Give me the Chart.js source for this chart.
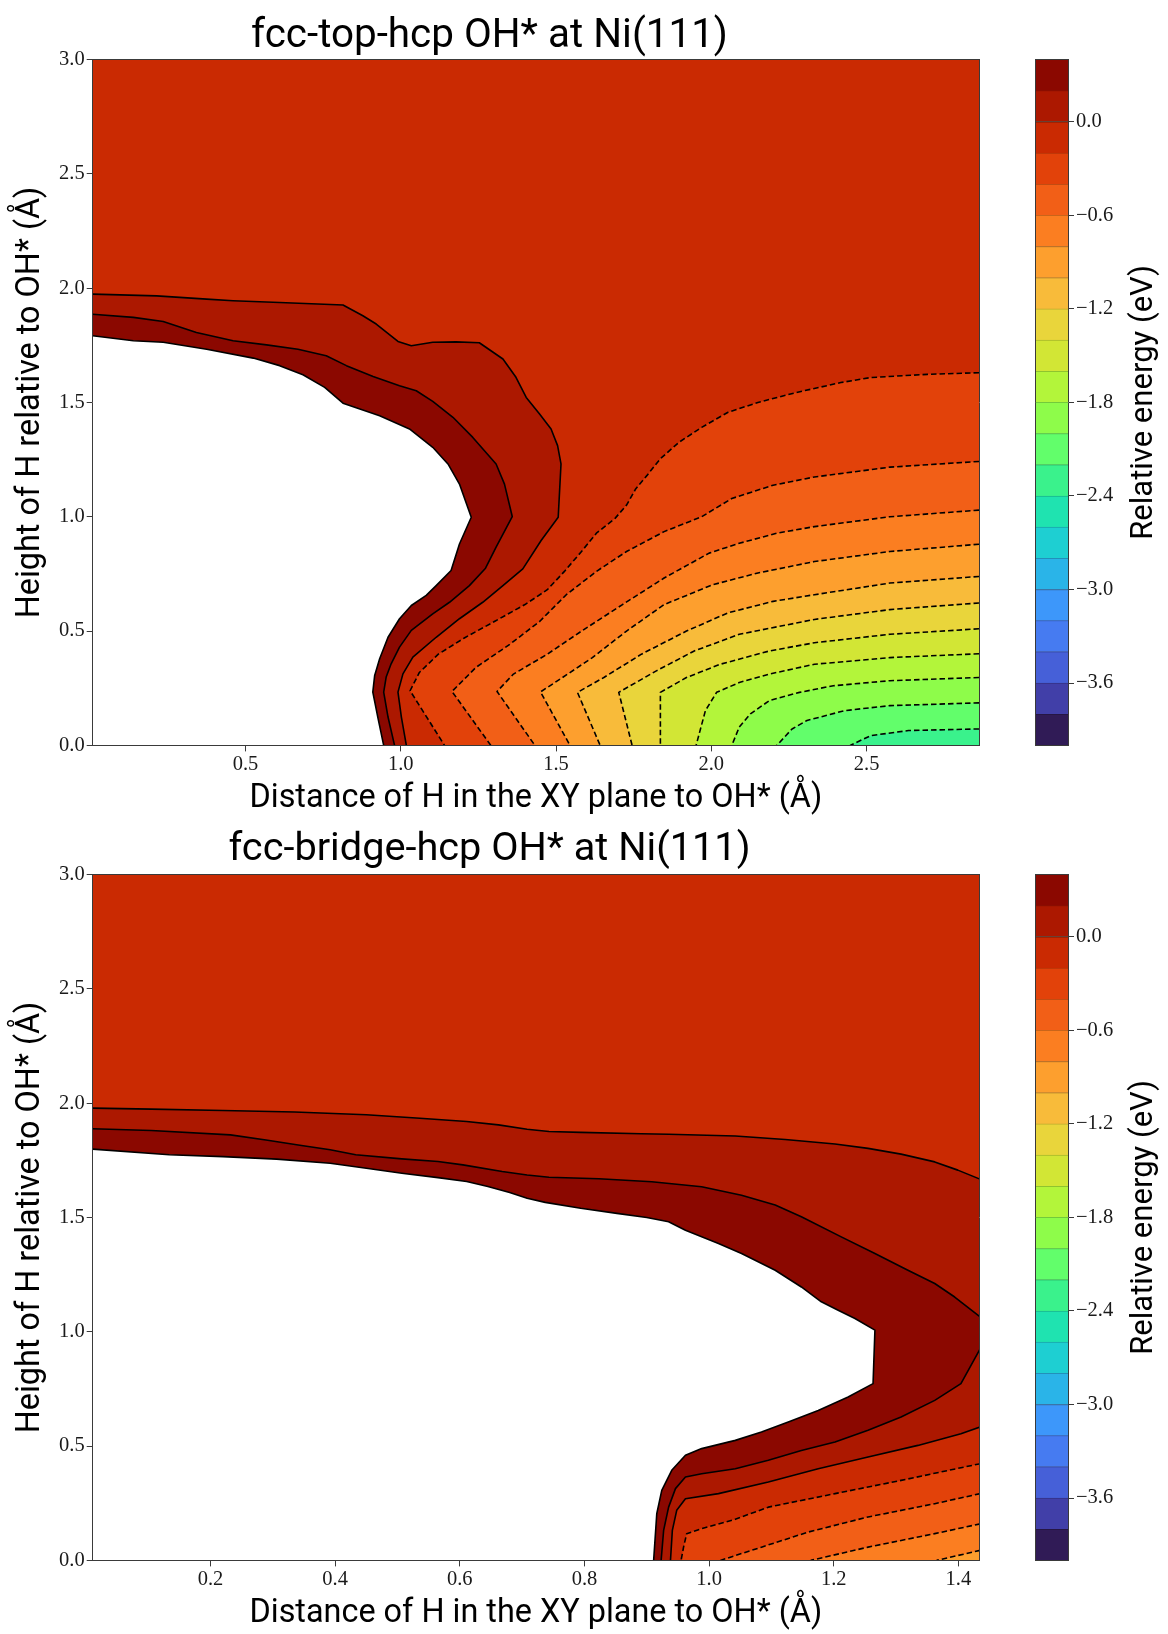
<!DOCTYPE html>
<html><head><meta charset="utf-8">
<script src="https://cdn.jsdelivr.net/npm/chart.js@4/dist/chart.umd.min.js"></script>
<style>
html,body{margin:0;padding:0;background:#fff;width:1168px;height:1634px;overflow:hidden;position:relative}
canvas{position:absolute}
</style></head><body>
<canvas id="topMain" width="1010" height="817" style="left:0;top:0;width:1010px;height:817px"></canvas>
<canvas id="topBar" width="158" height="817" style="left:1010px;top:0;width:158px;height:817px"></canvas>
<canvas id="botMain" width="1010" height="817" style="left:0;top:815px;width:1010px;height:817px"></canvas>
<canvas id="botBar" width="158" height="817" style="left:1010px;top:815px;width:158px;height:817px"></canvas>
<script>
// ---------------- data ----------------
const LEVELS = [-4.0,-3.8,-3.6,-3.4,-3.2,-3.0,-2.8,-2.6,-2.4,-2.2,-2.0,-1.8,-1.6,-1.4,-1.2,-1.0,-0.8,-0.6,-0.4,-0.2,0.0,0.2,0.4];
const CBAR_TICKS = [0.0,-0.6,-1.2,-1.8,-2.4,-3.0,-3.6];
const Y_TICKS = [0.0,0.5,1.0,1.5,2.0,2.5,3.0];
const Y_RANGE = [0,3];
const TOP_X_TICKS = [0.5,1.0,1.5,2.0,2.5];
const TOP_X_RANGE = [0.008,2.862];
const BOT_X_TICKS = [0.2,0.4,0.6,0.8,1.0,1.2,1.4];
const BOT_X_RANGE = [0.011,1.433];

const TOP_TITLE = 'fcc-top-hcp OH* at Ni(111)';
const BOT_TITLE = 'fcc-bridge-hcp OH* at Ni(111)';
const X_TITLE = 'Distance of H in the XY plane to OH* (Å)';
const Y_TITLE = 'Height of H relative to OH* (Å)';
const CBAR_TITLE = 'Relative energy (eV)';

// top panel contours (x, y) — positive levels run from left edge to bottom edge
const TOP_P040 = [[0.008,1.792],[0.139,1.770],[0.235,1.763],[0.375,1.733],[0.525,1.694],[0.610,1.661],[0.685,1.621],[0.755,1.566],[0.814,1.497],[0.932,1.442],[1.028,1.384],[1.103,1.304],[1.152,1.231],[1.189,1.143],[1.227,0.998],[1.189,0.881],[1.162,0.765],[1.114,0.699],[1.082,0.656],[1.034,0.612],[0.996,0.554],[0.959,0.473],[0.932,0.379],[0.916,0.306],[0.910,0.233],[0.926,0.124],[0.945,0.0]];
const TOP_P020 = [[0.008,1.886],[0.139,1.872],[0.235,1.854],[0.342,1.806],[0.460,1.770],[0.568,1.752],[0.669,1.733],[0.760,1.704],[0.825,1.661],[0.911,1.613],[0.996,1.573],[1.050,1.551],[1.103,1.505],[1.168,1.435],[1.232,1.347],[1.307,1.231],[1.334,1.143],[1.359,1.001],[1.307,0.867],[1.273,0.775],[1.221,0.699],[1.157,0.626],[1.103,0.575],[1.034,0.503],[0.996,0.430],[0.969,0.357],[0.953,0.299],[0.945,0.233],[0.959,0.124],[0.980,0.0]];
const TOP_P000 = [[0.008,1.974],[0.214,1.966],[0.375,1.952],[0.460,1.945],[0.610,1.937],[0.814,1.926],[0.878,1.879],[0.921,1.843],[0.991,1.767],[1.034,1.748],[1.103,1.763],[1.178,1.765],[1.253,1.761],[1.329,1.690],[1.371,1.610],[1.404,1.522],[1.447,1.449],[1.484,1.384],[1.505,1.311],[1.516,1.231],[1.507,0.998],[1.452,0.896],[1.393,0.772],[1.329,0.699],[1.264,0.626],[1.189,0.554],[1.114,0.473],[1.039,0.386],[1.007,0.313],[0.991,0.233],[1.002,0.124],[1.018,0.0]];
// negative levels run from right edge to bottom edge
const TOP_M020 = [[2.862,1.630],[2.696,1.623],[2.514,1.609],[2.417,1.587],[2.272,1.543],[2.150,1.500],[2.054,1.457],[1.969,1.391],[1.896,1.326],[1.836,1.254],[1.793,1.181],[1.757,1.123],[1.727,1.051],[1.690,0.993],[1.630,0.928],[1.582,0.848],[1.527,0.761],[1.472,0.681],[1.400,0.616],[1.303,0.543],[1.206,0.471],[1.121,0.399],[1.060,0.319],[1.030,0.239],[1.141,0.0]];
const TOP_M040 = [[2.862,1.242],[2.575,1.217],[2.332,1.174],[2.199,1.138],[2.066,1.080],[1.969,1.000],[1.848,0.935],[1.727,0.848],[1.630,0.761],[1.533,0.659],[1.448,0.543],[1.351,0.442],[1.242,0.341],[1.165,0.236],[1.290,0.0]];
const TOP_M060 = [[2.862,1.029],[2.575,1.000],[2.332,0.957],[2.211,0.928],[2.090,0.884],[1.993,0.841],[1.848,0.732],[1.714,0.616],[1.582,0.500],[1.472,0.399],[1.363,0.312],[1.310,0.236],[1.432,0.0]];
const TOP_M080 = [[2.862,0.880],[2.575,0.848],[2.332,0.804],[2.150,0.754],[2.005,0.703],[1.848,0.616],[1.727,0.500],[1.617,0.384],[1.521,0.297],[1.450,0.234],[1.545,0.0]];
const TOP_M100 = [[2.862,0.739],[2.575,0.710],[2.332,0.659],[2.199,0.630],[2.054,0.580],[1.920,0.500],[1.775,0.399],[1.654,0.297],[1.569,0.232],[1.642,0.0]];
const TOP_M120 = [[2.862,0.623],[2.575,0.594],[2.332,0.551],[2.090,0.486],[1.945,0.413],[1.823,0.326],[1.702,0.232],[1.745,0.0]];
const TOP_M140 = [[2.862,0.510],[2.575,0.486],[2.332,0.449],[2.187,0.413],[2.029,0.355],[1.920,0.297],[1.836,0.232],[1.836,0.0]];
const TOP_M160 = [[2.862,0.401],[2.575,0.384],[2.332,0.355],[2.187,0.312],[2.090,0.275],[2.017,0.232],[1.981,0.152],[1.951,0.0]];
const TOP_M180 = [[2.862,0.297],[2.575,0.283],[2.393,0.261],[2.284,0.232],[2.187,0.196],[2.126,0.138],[2.090,0.080],[2.066,0.0]];
const TOP_M200 = [[2.862,0.186],[2.575,0.174],[2.429,0.152],[2.308,0.109],[2.260,0.072],[2.211,0.0]];
const TOP_M220 = [[2.862,0.072],[2.635,0.065],[2.514,0.043],[2.447,0.0]];

// bottom panel contours
const BOT_P040 = [[0.011,1.799],[0.134,1.774],[0.220,1.766],[0.306,1.755],[0.392,1.737],[0.450,1.715],[0.507,1.693],[0.565,1.674],[0.611,1.657],[0.645,1.635],[0.680,1.609],[0.708,1.584],[0.737,1.566],[0.794,1.540],[0.852,1.518],[0.900,1.500],[0.935,1.481],[0.962,1.444],[1.015,1.386],[1.052,1.342],[1.106,1.269],[1.148,1.196],[1.180,1.131],[1.207,1.094],[1.234,1.058],[1.266,1.007],[1.263,0.773],[1.223,0.715],[1.175,0.656],[1.127,0.605],[1.084,0.562],[1.042,0.525],[0.988,0.489],[0.962,0.460],[0.940,0.394],[0.924,0.306],[0.916,0.204],[0.911,0.0]];
const BOT_P020_UPPER = [[0.011,1.888],[0.105,1.880],[0.232,1.861],[0.289,1.839],[0.346,1.815],[0.392,1.796],[0.433,1.774],[0.507,1.756],[0.565,1.745],[0.605,1.730],[0.668,1.701],[0.708,1.686],[0.743,1.676],[0.823,1.669],[0.908,1.656],[0.988,1.634],[1.052,1.597],[1.106,1.554],[1.148,1.503],[1.212,1.415],[1.266,1.342],[1.319,1.269],[1.362,1.211],[1.394,1.152],[1.435,1.065]];
const BOT_P020_LOWER = [[1.435,0.926],[1.404,0.773],[1.362,0.700],[1.308,0.627],[1.255,0.569],[1.202,0.518],[1.148,0.481],[1.095,0.438],[1.042,0.401],[0.988,0.379],[0.962,0.365],[0.946,0.314],[0.935,0.233],[0.927,0.131],[0.923,0.0]];
const BOT_P000_UPPER = [[0.011,1.978],[0.105,1.974],[0.220,1.968],[0.335,1.961],[0.450,1.949],[0.536,1.934],[0.611,1.920],[0.662,1.905],[0.708,1.886],[0.743,1.876],[0.794,1.872],[0.891,1.866],[0.935,1.864],[1.042,1.856],[1.122,1.841],[1.202,1.821],[1.255,1.802],[1.308,1.777],[1.362,1.743],[1.399,1.707],[1.435,1.667]];
const BOT_P000_LOWER = [[1.435,0.584],[1.404,0.554],[1.335,0.503],[1.255,0.452],[1.175,0.401],[1.095,0.343],[1.015,0.292],[0.962,0.270],[0.948,0.219],[0.941,0.131],[0.938,0.0]];
const BOT_M020 = [[1.435,0.423],[1.308,0.350],[1.202,0.292],[1.095,0.233],[1.042,0.180],[0.988,0.139],[0.964,0.117],[0.959,0.058],[0.955,0.0]];
const BOT_M040 = [[1.435,0.292],[1.362,0.248],[1.255,0.190],[1.159,0.124],[1.084,0.058],[1.018,0.0]];
const BOT_M060 = [[1.435,0.160],[1.362,0.117],[1.255,0.058],[1.163,0.0]];
const BOT_M080 = [[1.435,0.044],[1.365,0.0]];

const TOP_POS = [{level:0.0, segs:[TOP_P000]},{level:0.2, segs:[TOP_P020]},{level:0.4, segs:[TOP_P040]}];
const TOP_NEG = [{level:-0.2,segs:[TOP_M020]},{level:-0.4,segs:[TOP_M040]},{level:-0.6,segs:[TOP_M060]},{level:-0.8,segs:[TOP_M080]},{level:-1.0,segs:[TOP_M100]},{level:-1.2,segs:[TOP_M120]},{level:-1.4,segs:[TOP_M140]},{level:-1.6,segs:[TOP_M160]},{level:-1.8,segs:[TOP_M180]},{level:-2.0,segs:[TOP_M200]},{level:-2.2,segs:[TOP_M220]}];
const BOT_POS = [{level:0.0, segs:[BOT_P000_UPPER,BOT_P000_LOWER]},{level:0.2, segs:[BOT_P020_UPPER,BOT_P020_LOWER]},{level:0.4, segs:[BOT_P040]}];
const BOT_NEG = [{level:-0.2,segs:[BOT_M020]},{level:-0.4,segs:[BOT_M040]},{level:-0.6,segs:[BOT_M060]},{level:-0.8,segs:[BOT_M080]}];

// ---------------- style ----------------
// band colours (turbo colormap), lowest band first
const BAND_COLORS = ['#301b56','#413fa8','#4660d8','#467bf1','#3d97fa','#2ab4e8','#1ecfd2','#1fe3b0','#3af28c','#62fe6b','#8efc4a','#b3f53a','#d2e635','#e9d53b','#f8bb3a','#fd9f2e','#fb7e21','#f25f17','#e2420a','#ca2a02','#ac1800','#8b0800'];
const SANS = 'Roboto';
const TICK_FONT = {family:'Liberation Serif', size:20.5};
const TICK_COLOR = '#1a1a1a';
const SPINE = '#3a3a3a';
function fitSize(text, family, target){
  const c = document.createElement('canvas').getContext('2d');
  c.font = '100px ' + family;
  return 100 * target / c.measureText(text).width;
}
function darker(hex, f){
  const n = parseInt(hex.slice(1),16);
  const r = Math.round(((n>>16)&255)*f), g = Math.round(((n>>8)&255)*f), b = Math.round((n&255)*f);
  return `rgb(${r},${g},${b})`;
}
const VMIN = LEVELS[0], VMAX = LEVELS[LEVELS.length-1];
function bandColor(k){ return BAND_COLORS[k]; }
function levelIndex(L){ return LEVELS.findIndex(v => Math.abs(v-L) < 1e-6); }
const toPts = a => a.map(([x,y]) => ({x, y}));

const PLOT_TOP = 59.5, PLOT_BOTTOM = 745.4, PLOT_LEFT = 92.7, PLOT_RIGHT = 979, CANVAS_W = 1010, CANVAS_H = 817;
const xTitleSize = fitSize(X_TITLE, SANS, 573);
const yTitleSize = fitSize(Y_TITLE, SANS, 432);
const cbarTitleSize = fitSize(CBAR_TITLE, SANS, 275);
const BORDER = {display:true, color:SPINE, width:1, z:1};

function buildMain(id, spec){
  const [x0,x1] = spec.xRange, [y0,y1] = Y_RANGE;
  const layers = [];
  const base = levelIndex(0.0) - 1;
  layers.push({poly: [[x0,y0],[x0,y1],[x1,y1],[x1,y0]], color: bandColor(base)});
  for (const c of spec.pos){
    const poly = [].concat(...c.segs, [[x0,y0]]);
    const k = levelIndex(c.level);
    layers.push({poly, color: k >= LEVELS.length-1 ? '#ffffff' : bandColor(k)});
  }
  for (const c of spec.neg){
    const poly = [].concat(...c.segs, [[x1,y0]]);
    layers.push({poly, color: bandColor(levelIndex(c.level)-1)});
  }
  const datasets = [];
  for (const L of layers){
    datasets.push({data: toPts(L.poly), showLine:true, fill:'shape', backgroundColor:L.color,
      borderColor:'rgba(0,0,0,0)', borderWidth:0, pointRadius:0, pointHoverRadius:0, tension:0});
  }
  for (const c of [...spec.pos, ...spec.neg]){
    for (const s of c.segs){
      datasets.push({data: toPts(s), showLine:true, fill:false, borderColor:'#000', borderWidth:1.6,
        borderDash: c.level < 0 ? [5.5,3] : [], borderJoinStyle:'round', pointRadius:0, pointHoverRadius:0, tension:0});
    }
  }
  const N = datasets.length;
  datasets.forEach((d,i) => d.order = N - i);

  const titleSize = fitSize(spec.title, SANS, spec.titleWidth);
  const tlh = titleSize*1.2;
  const tpTop = spec.titleCenter - tlh/2;
  const tpBot = PLOT_TOP - tpTop - tlh;
  const xlh = xTitleSize*1.2, ylh = yTitleSize*1.2;

  new Chart(document.getElementById(id), {
    type:'scatter',
    data:{datasets},
    options:{
      responsive:false, animation:false, devicePixelRatio:1, events:[],
      layout:{padding:{left:0, right:CANVAS_W-PLOT_RIGHT, top:0, bottom:0}},
      plugins:{
        legend:{display:false}, tooltip:{enabled:false},
        title:{display:true, text:spec.title, color:'#000', font:{family:SANS, size:titleSize, weight:'normal', lineHeight:1.2}, padding:{top:tpTop, bottom:tpBot}},
        filler:{propagate:false}
      },
      scales:{
        x:{type:'linear', position:'bottom', min:x0, max:x1,
          afterBuildTicks:a => { a.ticks = spec.xTicks.map(v => ({value:v})); },
          afterFit:s => { s.height = CANVAS_H - PLOT_BOTTOM; },
          ticks:{callback:v => Number(v).toFixed(1), font:TICK_FONT, color:TICK_COLOR, padding:1, maxRotation:0, autoSkip:false},
          grid:{display:true, drawOnChartArea:false, drawTicks:true, tickLength:6, color:SPINE, tickWidth:1},
          border:BORDER,
          title:{display:true, text:X_TITLE, color:'#000', font:{family:SANS, size:xTitleSize, lineHeight:1.2}, padding:{top:0, bottom:CANVAS_H-798.5-xlh/2}}
        },
        y:{type:'linear', position:'left', min:y0, max:y1,
          afterBuildTicks:a => { a.ticks = Y_TICKS.map(v => ({value:v})); },
          afterFit:s => { s.width = PLOT_LEFT; },
          ticks:{callback:v => Number(v).toFixed(1), font:TICK_FONT, color:TICK_COLOR, padding:2, autoSkip:false},
          grid:{display:true, drawOnChartArea:false, drawTicks:true, tickLength:6, color:SPINE, tickWidth:1},
          border:BORDER,
          title:{display:true, text:Y_TITLE, color:'#000', font:{family:SANS, size:yTitleSize, lineHeight:1.2}, padding:{top:31-ylh/2, bottom:0}}
        },
        x2:{type:'linear', position:'top', min:0, max:1, ticks:{display:false}, grid:{display:false}, border:BORDER, afterFit:s => { s.height = 0; }},
        y2:{type:'linear', position:'right', min:0, max:1, ticks:{display:false}, grid:{display:false}, border:BORDER, afterFit:s => { s.width = 0; }}
      }
    }
  });
}

function buildBar(id){
  const datasets = [];
  const nb = LEVELS.length-1;
  for (let k = 0; k < nb; k++){
    datasets.push({data:[[LEVELS[k], LEVELS[k+1]]], backgroundColor:bandColor(k), borderColor:darker(bandColor(k),0.8),
      borderWidth:{top:k === nb-1 ? 0 : 1,right:0,bottom:0,left:0}, borderSkipped:false, grouped:false,
      barPercentage:1, categoryPercentage:1, order:1});
  }
  // dark backing strip so sub-pixel seams between bands read as dividers
  datasets.push({data:[[VMIN, VMAX]], backgroundColor:'#5a4a40', borderWidth:0, grouped:false, barPercentage:1, categoryPercentage:1, order:2});
  const titlePlugin = {
    id:'cbarTitle',
    afterDraw(chart){
      const {ctx, chartArea} = chart;
      ctx.save();
      ctx.translate(134, (chartArea.top + chartArea.bottom)/2);
      ctx.rotate(-Math.PI/2);
      ctx.font = cbarTitleSize + 'px ' + SANS;
      ctx.fillStyle = '#000'; ctx.textAlign = 'center'; ctx.textBaseline = 'middle';
      ctx.fillText(CBAR_TITLE, 0, 0);
      ctx.restore();
    }
  };
  new Chart(document.getElementById(id), {
    type:'bar',
    data:{labels:[''], datasets},
    plugins:[titlePlugin],
    options:{
      responsive:false, animation:false, devicePixelRatio:1, events:[],
      layout:{padding:{left:25, right:0, top:PLOT_TOP, bottom:CANVAS_H-PLOT_BOTTOM}},
      plugins:{legend:{display:false}, tooltip:{enabled:false}, title:{display:false}},
      scales:{
        x:{type:'category', position:'bottom', ticks:{display:false}, grid:{display:false}, border:BORDER, afterFit:s => { s.height = 0; }},
        x2:{type:'category', position:'top', labels:[''], ticks:{display:false}, grid:{display:false}, border:BORDER, afterFit:s => { s.height = 0; }},
        y:{type:'linear', position:'right', min:VMIN, max:VMAX,
          afterBuildTicks:a => { a.ticks = CBAR_TICKS.map(v => ({value:v})); },
          afterFit:s => { s.width = 158 - 58; },
          ticks:{callback:v => (v < 0 ? '\u2212' : '') + Math.abs(v).toFixed(1), font:TICK_FONT, color:TICK_COLOR, padding:2, autoSkip:false},
          grid:{display:true, drawOnChartArea:false, drawTicks:true, tickLength:6, color:SPINE, tickWidth:1},
          border:BORDER
        },
        y2:{type:'linear', position:'left', min:0, max:1, ticks:{display:false}, grid:{display:false}, border:BORDER, afterFit:s => { s.width = 0; }}
      }
    }
  });
}

buildMain('topMain', {xRange:TOP_X_RANGE, xTicks:TOP_X_TICKS, title:TOP_TITLE, titleWidth:477, titleCenter:36.5, pos:TOP_POS, neg:TOP_NEG});
buildMain('botMain', {xRange:BOT_X_RANGE, xTicks:BOT_X_TICKS, title:BOT_TITLE, titleWidth:522, titleCenter:34.8, pos:BOT_POS, neg:BOT_NEG});
buildBar('topBar');
buildBar('botBar');
</script>
</body></html>
